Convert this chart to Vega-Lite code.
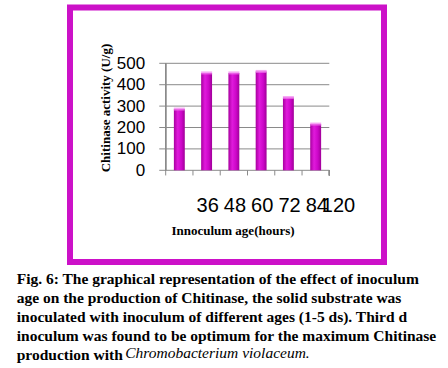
{
  "$schema": "https://vega.github.io/schema/vega-lite/v6.json",
  "autosize": "none",
  "width": 314,
  "height": 254.5,
  "padding": {"left": 70, "top": 7.5, "right": 64, "bottom": 106},
  "background": "white",
  "config": {
    "view": {"stroke": "#cc11c8", "strokeWidth": 6},
    "font": "Liberation Sans"
  },
  "datasets": {
    "bars": [
      {"age": "36", "activity": 286},
      {"age": "48", "activity": 455},
      {"age": "60", "activity": 455},
      {"age": "72", "activity": 462},
      {"age": "84", "activity": 340},
      {"age": "120", "activity": 216}
    ],
    "grid": [
      {"v": 0}, {"v": 100}, {"v": 200}, {"v": 300}, {"v": 400}, {"v": 500}
    ]
  },
  "data": {"name": "bars"},
  "title": {
    "text": [
      "Fig. 6: The graphical representation of the effect of inoculum",
      "age on the production of Chitinase, the solid substrate was",
      "inoculated with inoculum of different ages (1-5 ds). Third d",
      "inoculum was found to be optimum for the maximum Chitinase",
      "production with"
    ],
    "subtitle": "\u200b\u00a0\u00a0\u00a0\u00a0\u00a0\u00a0\u00a0\u00a0\u00a0\u00a0\u00a0\u00a0\u00a0\u00a0\u00a0\u00a0\u00a0\u00a0\u00a0\u00a0\u00a0\u00a0\u00a0\u00a0\u00a0\u00a0\u00a0\u00a0Chromobacterium violaceum.",
    "orient": "bottom",
    "anchor": "start",
    "frame": "group",
    "dx": -53.3,
    "offset": 10,
    "font": "Liberation Serif",
    "fontSize": 15.5,
    "fontWeight": "bold",
    "color": "black",
    "lineHeight": 19,
    "subtitleFont": "Liberation Serif",
    "subtitleFontSize": 15.5,
    "subtitleFontStyle": "italic",
    "subtitleFontWeight": "normal",
    "subtitleColor": "black",
    "subtitleLineHeight": 19,
    "subtitlePadding": -18
  },
  "layer": [
    {
      "data": {"name": "grid"},
      "mark": {"type": "rule", "color": "#8a8a8a", "strokeWidth": 1},
      "encoding": {
        "y": {"field": "v", "type": "quantitative"},
        "x": {"datum": "36", "type": "nominal", "bandPosition": -1.34},
        "x2": {"datum": "120", "bandPosition": 1.75}
      }
    },
    {
      "mark": {"type": "rule", "color": "#8a8a8a", "strokeWidth": 1},
      "encoding": {
        "x": {"field": "age", "type": "nominal", "bandPosition": -0.75},
        "y": {"datum": 0, "type": "quantitative"},
        "y2": {"datum": -24}
      }
    },
    {
      "mark": {"type": "rule", "color": "#8a8a8a", "strokeWidth": 1},
      "encoding": {
        "x": {"datum": "36", "type": "nominal", "bandPosition": -0.75},
        "y": {"datum": 500, "type": "quantitative"},
        "y2": {"datum": 0}
      }
    },
    {
      "mark": {"type": "rule", "color": "#8a8a8a", "strokeWidth": 1},
      "encoding": {
        "x": {"datum": "120", "type": "nominal", "bandPosition": 1.75},
        "y": {"datum": 0, "type": "quantitative"},
        "y2": {"datum": -24}
      }
    },
    {
      "mark": {
        "type": "bar",
        "color": {
          "gradient": "linear",
          "x1": 0, "x2": 1, "y1": 0, "y2": 0,
          "stops": [
            {"offset": 0, "color": "#a8009f"},
            {"offset": 0.35, "color": "#e01adc"},
            {"offset": 0.7, "color": "#cc06c8"},
            {"offset": 1, "color": "#a00098"}
          ]
        }
      },
      "encoding": {
        "x": {
          "field": "age",
          "type": "nominal",
          "sort": null,
          "scale": {
            "domain": ["36", "48", "60", "72", "84", "120"],
            "range": [95.7, 259.3],
            "paddingInner": 0.6,
            "paddingOuter": 0.3
          },
          "axis": {
            "title": "Innoculum age(hours)",
            "titleFont": "Liberation Serif",
            "titleFontSize": 13,
            "titleFontWeight": "bold",
            "titleColor": "black",
            "titleX": 162.5,
            "titleY": 63.7,
            "titleBaseline": "alphabetic",
            "titleAnchor": "middle",
            "offset": -91.7,
            "bandPosition": 0.5,
            "domain": false,
            "ticks": false,
            "tickSize": 0,
            "grid": false,
            "labelAngle": 0,
            "labelFont": "Liberation Sans",
            "labelFontSize": 20,
            "labelColor": "black",
            "labelPadding": 35,
            "labelOffset": 39.5,
            "labelExpr": "datum.label == '120' ? '\u200b\u00a0\u00a0120' : datum.label"
          }
        },
        "y": {
          "field": "activity",
          "type": "quantitative",
          "scale": {"domain": [-428.5, 760.8], "nice": false, "zero": false},
          "axis": {
            "values": [0, 100, 200, 300, 400, 500],
            "offset": -95.7,
            "domain": false,
            "ticks": false,
            "grid": false,
            "labelFont": "Liberation Sans",
            "labelFontSize": 17,
            "labelColor": "black",
            "labelPadding": 21,
            "title": "Chitinase activity (U/g)",
            "titleFont": "Liberation Serif",
            "titleFontSize": 13,
            "titleFontWeight": "bold",
            "titleColor": "black",
            "titleX": -56.7,
            "titleY": 100,
            "titleAlign": "center",
            "titleBaseline": "alphabetic",
            "titleAngle": -90
          }
        },
        "y2": {"datum": 0}
      }
    },
    {
      "mark": {"type": "tick", "color": "#f27ef0", "thickness": 3, "size": 11},
      "encoding": {
        "x": {"field": "age", "type": "nominal"},
        "y": {"field": "activity", "type": "quantitative"}
      }
    }
  ]
}
